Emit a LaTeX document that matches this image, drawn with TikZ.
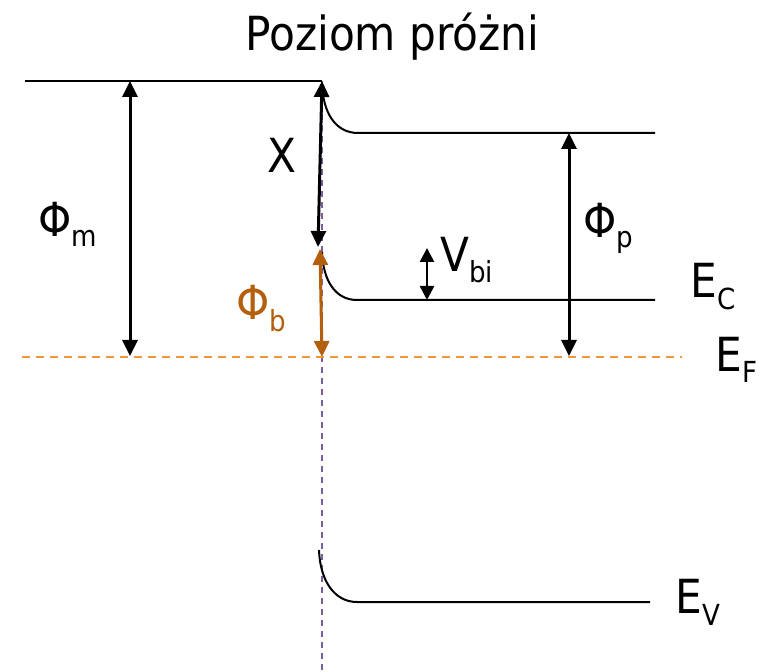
\documentclass[tikz,border=0pt]{standalone}
\usepackage{fontspec}
\setmainfont{DejaVu Sans Condensed}
\usetikzlibrary{arrows.meta, positioning}
\definecolor{barrier}{RGB}{180,95,12}
\definecolor{fermi}{RGB}{242,150,60}
\definecolor{iface}{RGB}{120,96,160}
\newcommand{\lowidx}[2][6pt]{\raisebox{-#1}{\fontsize{14.5}{17}\selectfont #2}}

\begin{document}
\begin{tikzpicture}[x=0.5pt, y=-0.5pt,
  lbl/.style={anchor=base west, inner sep=0pt, font=\fontsize{23.5}{28}\selectfont},
  band/.style={line width=1pt},
  gap/.style={{Triangle[length=8pt,width=7.5pt]}-{Triangle[length=8pt,width=7.5pt]}, line width=1.5pt},
  smallgap/.style={{Triangle[length=7pt,width=7pt]}-{Triangle[length=7pt,width=7pt]}, line width=1.3pt}]
  \useasboundingbox (0,0) rectangle (769,672);

  % levels
  \coordinate (vacL) at (25,81);
  \coordinate (vacJ) at (322,81);
  \coordinate (vacB) at (322,84);
  \coordinate (vacK) at (358,133);
  \coordinate (vacR) at (655,133);
  \coordinate (ecB) at (322,252);
  \coordinate (ecK) at (357,300);
  \coordinate (ecR) at (655,300);
  \coordinate (evB) at (319,550);
  \coordinate (evK) at (357,602);
  \coordinate (evR) at (650,602);
  \coordinate (efL) at (22,357);
  \coordinate (efR) at (682,357);
  \coordinate (ifTop) at (322,81);
  \coordinate (ifBot) at (322,672);

  \draw[iface, line width=1pt, dash pattern=on 3pt off 2.5pt] (ifTop) -- (ifBot);
  \draw[fermi, line width=1pt, dash pattern=on 4pt off 3pt] (efL) -- (efR);

  \draw[band] (vacL) -- (vacJ);
  \draw[band] (vacB) .. controls (323,112) and (335,133) .. (vacK) -- (vacR);
  \draw[band] (ecB) .. controls (323,280) and (335,300) .. (ecK) -- (ecR);
  \draw[band] (evB) .. controls (320,580) and (334,602) .. (evK) -- (evR);

  % energy gaps
  \coordinate (phimT) at (130,81);
  \coordinate (phimB) at (130,356);
  \coordinate (chiT) at (322,81);
  \coordinate (chiB) at (318,247);
  \coordinate (phibT) at (320,249);
  \coordinate (phibB) at (322,357);
  \coordinate (vbiT) at (427,248);
  \coordinate (vbiB) at (427,300);
  \coordinate (phipT) at (569,133);
  \coordinate (phipB) at (569,356);

  \draw[gap] (phimT) -- (phimB);
  \draw[gap] (chiT) -- (chiB);
  \draw[gap, barrier] (phibT) -- (phibB);
  \draw[smallgap] (vbiT) -- (vbiB);
  \draw[gap] (phipT) -- (phipB);

  % labels
  \node[lbl] (vacuum) at (245,51) {Poziom próżni};
  \node[lbl] (chi) at (267,173) {X};
  \node[lbl] (phim) at (38,237) {Φ\lowidx[5pt]{m}};
  \node[lbl] (phip) at (583,238) {Φ\lowidx[5pt]{p}};
  \node[lbl, barrier] (phib) at (236,320) {Φ\lowidx[6pt]{b}};
  \node[lbl] (vbi) at (440,272) {V\lowidx[5.5pt]{bi}};
  \node[lbl] (ec) at (690,298) {E\lowidx{C}};
  \node[lbl] (ef) at (715,372) {E\lowidx[5.5pt]{F}};
  \node[lbl] (ev) at (675,613) {E\lowidx{V}};
\end{tikzpicture}
\end{document}
